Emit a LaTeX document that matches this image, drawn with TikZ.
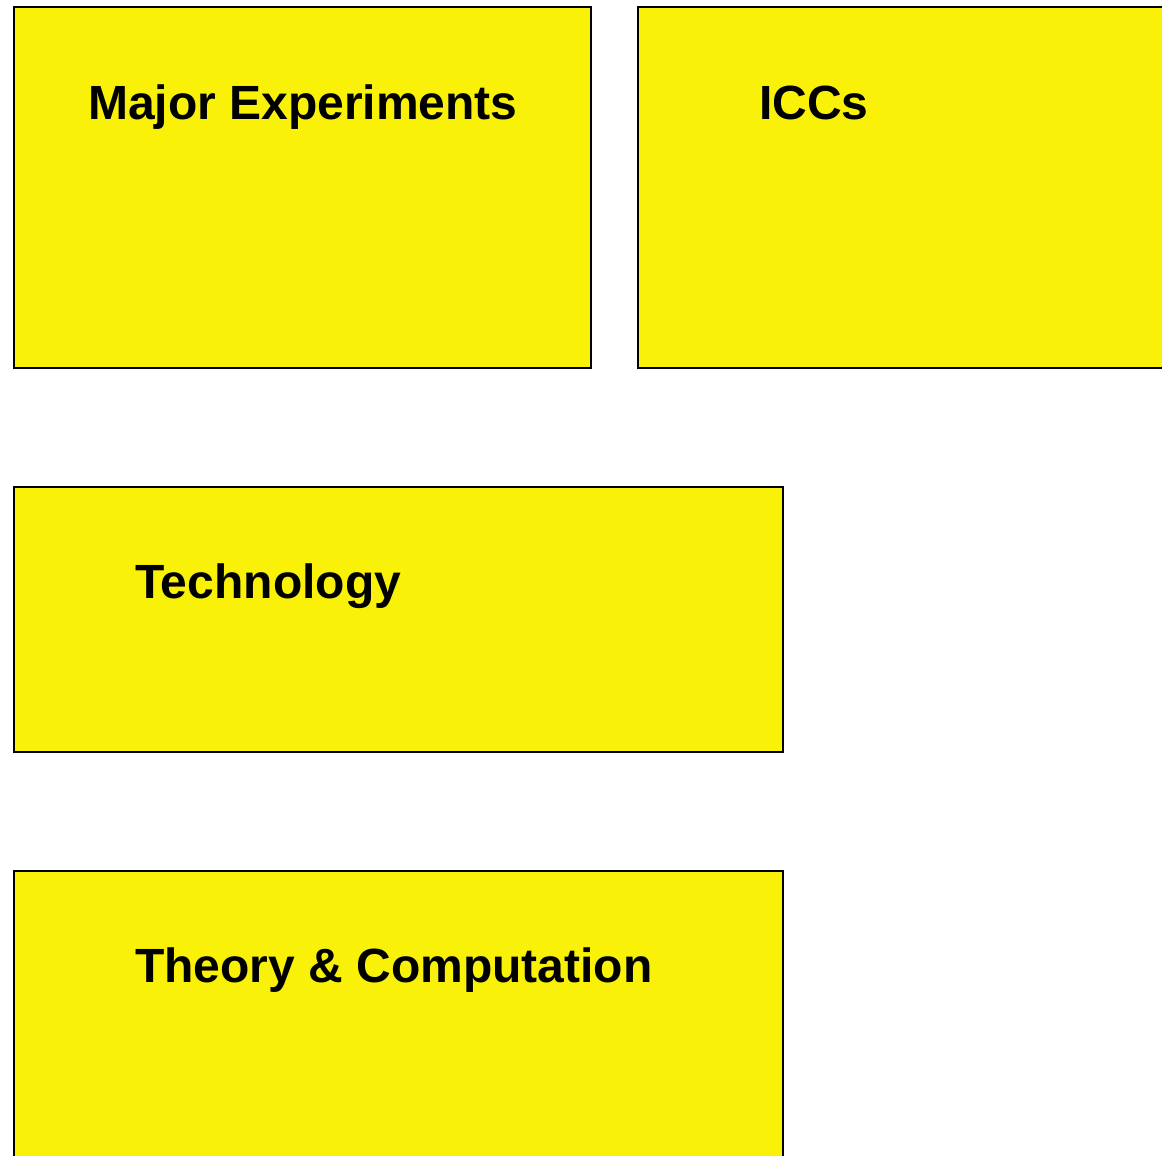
\documentclass[tikz,border=0pt]{standalone}
\usepackage{fontspec}
\setmainfont{Liberation Sans}
\definecolor{boxyellow}{HTML}{F9F107}
\begin{document}
\begin{tikzpicture}[x=1pt,y=-1pt,
  panel/.style={draw=black, line width=2pt, fill=boxyellow, anchor=north west, inner sep=0pt},
  title/.style={anchor=base west, inner sep=0pt, font=\fontsize{48}{56}\selectfont\bfseries}]
\useasboundingbox (0,0) rectangle (1162,1156);
\clip (0,0) rectangle (1162,1156);
% four panels
\node[panel, minimum width=577pt, minimum height=361pt] (major) at (13,6) {};
\node[panel, minimum width=600pt, minimum height=361pt] (iccs) at (637,6) {};
\node[panel, minimum width=769pt, minimum height=265pt] (tech) at (13,486) {};
\node[panel, minimum width=769pt, minimum height=400pt] (theory) at (13,870) {};
% panel headings
\node[title] (majorlbl) at (88,119) {Major Experiments};
\node[title] (iccslbl) at (759,119) {ICCs};
\node[title] (techlbl) at (135,598) {Technology};
\node[title] (theorylbl) at (135,982) {Theory \& Computation};
\end{tikzpicture}
\end{document}
